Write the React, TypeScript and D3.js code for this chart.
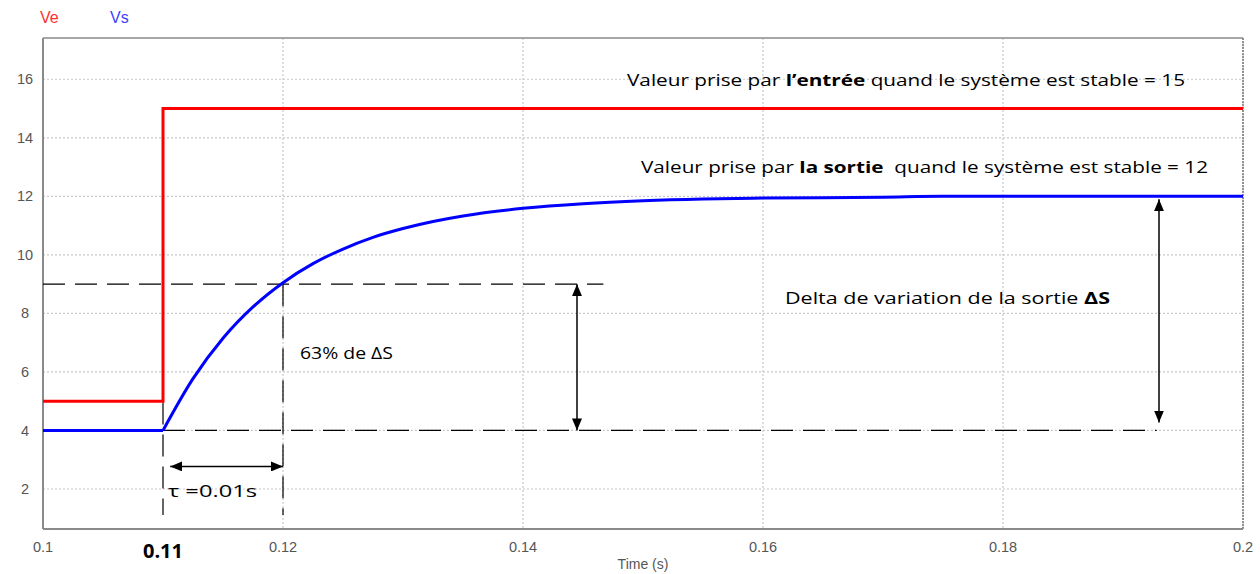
import * as d3 from 'd3';
import React from 'react';

// input (step) and output (first order response)
const veTime = [0.1, 0.11, 0.2];
const veValue = [5, 15, 15];

const vsTime = [0.1, 0.11, 0.1125, 0.115, 0.1175, 0.12, 0.1225, 0.125, 0.1275, 0.13, 0.1325, 0.135, 0.14, 0.145, 0.15, 0.155, 0.16, 0.17, 0.175, 0.18, 0.19, 0.2];
const vsValue = [4, 4, 5.77, 7.15, 8.22, 9.05, 9.7, 10.2, 10.6, 10.9, 11.14, 11.33, 11.59, 11.75, 11.85, 11.91, 11.94, 11.97, 12, 12, 12, 12];

const xTicks = [0.1, 0.12, 0.14, 0.16, 0.18, 0.2];
const yTicks = [2, 4, 6, 8, 10, 12, 14, 16];

const W = 1260;
const H = 574;
const margin = { left: 43, right: 17, top: 38, bottom: 45 };

const App = () => {
    const x = d3.scaleLinear().domain([0.1, 0.2]).range([margin.left, W - margin.right]);
    const y = d3.scaleLinear().domain([0.633, 17.41]).range([H - margin.bottom, margin.top]);

    const veLine = d3.line<number>()
        .x((d, i) => x(veTime[i]))
        .y((d) => y(d))
        .curve(d3.curveStepAfter);

    // flat part before the step, then the rising curve (sharp corner at the step)
    const stepIdx = vsTime.indexOf(0.11);
    const vsFlat = d3.line<number>()
        .x((d, i) => x(vsTime[i]))
        .y((d) => y(d));
    const vsRise = d3.line<number>()
        .x((d, i) => x(vsTime[i + stepIdx]))
        .y((d) => y(d))
        .curve(d3.curveMonotoneX);

    const axisFont = 'Arial, "Liberation Sans", sans-serif';
    const noteFont = '"Open Sans", "Noto Sans", sans-serif';
    const gridColor = '#c8c8c8';
    const frameColor = '#8a8a8a';
    const dash = '22,10';

    const x0 = margin.left;
    const x1 = W - margin.right;
    const y0 = H - margin.bottom;
    const y1 = margin.top;

    return (
        <div style={{ position: 'absolute', left: 0, top: 0 }}>
            <svg width={W} height={H} style={{ display: 'block', background: '#fff' }}>
                <defs>
                    <marker id="arr" viewBox="0 0 12 10" refX="12" refY="5" markerWidth="12" markerHeight="10"
                        markerUnits="userSpaceOnUse" orient="auto-start-reverse">
                        <path d="M0,0 L12,5 L0,10 Z" fill="#000" />
                    </marker>
                </defs>

                {/* grid */}
                <g stroke={gridColor} strokeWidth={1.2} strokeDasharray="2,2">
                    {yTicks.map((t) => (
                        <line key={'gy' + t} x1={x0} x2={x1} y1={y(t)} y2={y(t)} />
                    ))}
                    {xTicks.slice(1).map((t) => (
                        <line key={'gx' + t} x1={x(t)} x2={x(t)} y1={y1} y2={y0} />
                    ))}
                </g>

                {/* frame */}
                <line x1={x0} x2={x1} y1={y1} y2={y1} stroke={frameColor} strokeWidth={1.5} />
                <line x1={x1} x2={x1} y1={y1} y2={y0} stroke="#777" strokeWidth={1.5} strokeDasharray="2,1" />
                <line x1={x0} x2={x0} y1={y1} y2={y0} stroke={frameColor} strokeWidth={2} />
                <line x1={x0} x2={x1} y1={y0} y2={y0} stroke={frameColor} strokeWidth={2} />

                {/* tick labels */}
                <g fontFamily={axisFont} fontSize={14.5} fill="#555">
                    {yTicks.map((t) => (
                        <text key={'ty' + t} x={25} y={y(t)} dy="0.35em" textAnchor="middle">{t}</text>
                    ))}
                    {xTicks.map((t) => (
                        <text key={'tx' + t} x={x(t)} y={y0 + 23} textAnchor="middle">{d3.format('~g')(t)}</text>
                    ))}
                    <text x={(x0 + x1) / 2} y={H - 5} textAnchor="middle" fontSize={14}>Time (s)</text>
                </g>

                {/* legend */}
                <g fontFamily={axisFont} fontSize={16}>
                    <text x={40} y={23} fill="#ff3030">Ve</text>
                    <text x={110} y={23} fill="#4040ff">Vs</text>
                </g>

                {/* annotation dashed lines */}
                <g stroke="#000" strokeWidth={1.2} strokeDasharray={dash} fill="none">
                    <line x1={x0} x2={x(0.1467)} y1={y(9)} y2={y(9)} />
                    <line x1={x(0.11)} x2={x(0.1928)} y1={y(4)} y2={y(4)} />
                    <line x1={x(0.11)} x2={x(0.11)} y1={y(6.05)} y2={y0 - 14} />
                    <line x1={x(0.12)} x2={x(0.12)} y1={y(9)} y2={y0 - 14} />
                </g>

                {/* series */}
                <path d={veLine(veValue) || ''} fill="none" stroke="#ff0000" strokeWidth={3} />
                <path d={vsFlat(vsValue.slice(0, stepIdx + 1)) || ''} fill="none" stroke="#0000ff" strokeWidth={3} />
                <path d={vsRise(vsValue.slice(stepIdx)) || ''} fill="none" stroke="#0000ff" strokeWidth={3} />

                {/* arrows */}
                <g stroke="#000" strokeWidth={1.5}>
                    <line x1={x(0.1106)} x2={x(0.12)} y1={y(2.77)} y2={y(2.77)} markerStart="url(#arr)" markerEnd="url(#arr)" />
                    <line x1={x(0.1445)} x2={x(0.1445)} y1={y(9)} y2={y(4)} markerStart="url(#arr)" markerEnd="url(#arr)" />
                    <line x1={x(0.193)} x2={x(0.193)} y1={y(11.9)} y2={y(4.27)} markerStart="url(#arr)" markerEnd="url(#arr)" />
                </g>

                {/* notes */}
                <g fontFamily={noteFont} fontSize={16.5} fill="#000">
                    <text x={627} y={86} textLength={558} lengthAdjust="spacingAndGlyphs">
                        Valeur prise par <tspan fontWeight="bold">l’entrée</tspan> quand le système est stable = 15
                    </text>
                    <text x={641} y={173} textLength={567} lengthAdjust="spacingAndGlyphs">
                        Valeur prise par <tspan fontWeight="bold">la sortie</tspan>{'\u00a0'} quand le système est stable = 12
                    </text>
                    <text x={785} y={304} textLength={325} lengthAdjust="spacingAndGlyphs">
                        Delta de variation de la sortie <tspan fontWeight="bold">ΔS</tspan>
                    </text>
                    <text x={300} y={359} textLength={93} lengthAdjust="spacingAndGlyphs">63% de ΔS</text>
                    <text x={168} y={497} textLength={89} lengthAdjust="spacingAndGlyphs">τ =0.01s</text>
                </g>
                <text x={x(0.11)} y={558} textAnchor="middle" fontFamily={noteFont} fontWeight="bold" fontSize={20} fill="#000">0.11</text>
            </svg>
        </div>
    );
};

export default App;
